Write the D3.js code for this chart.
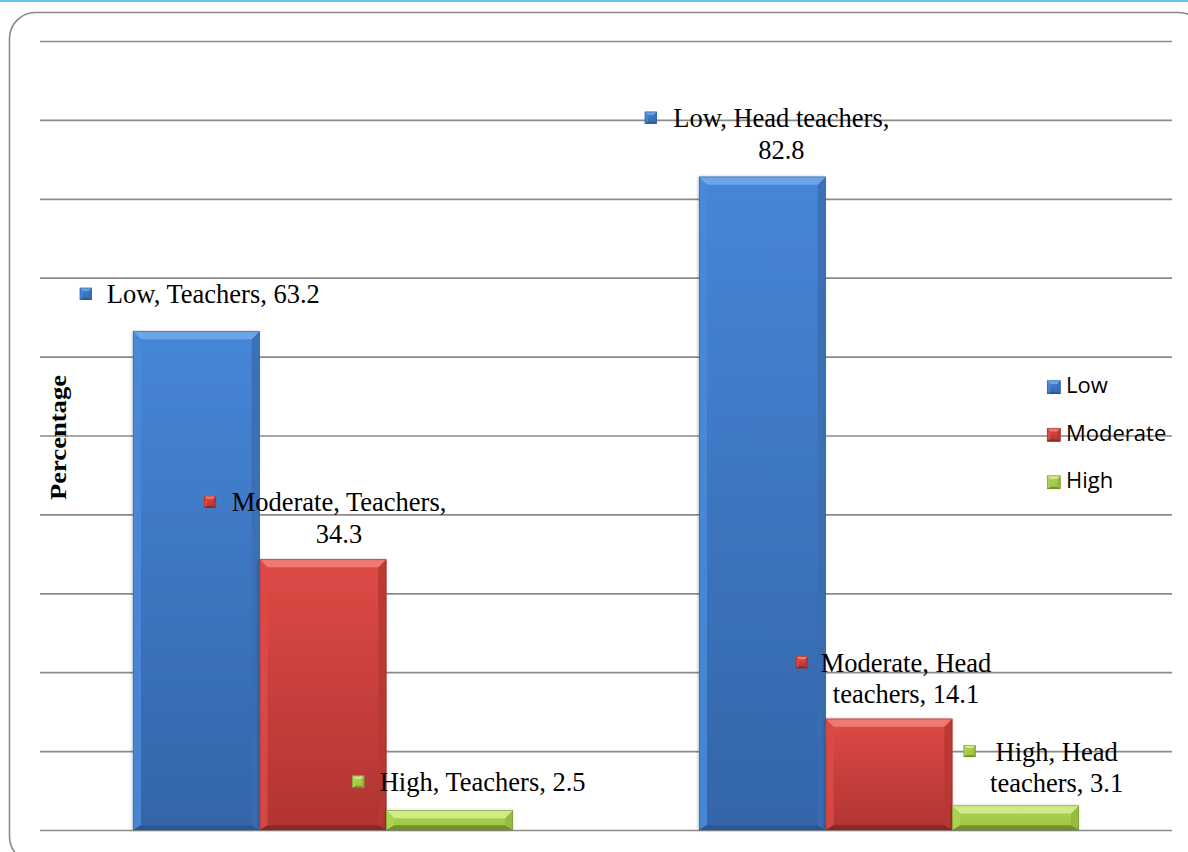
<!DOCTYPE html>
<html>
<head>
<meta charset="utf-8">
<script src="https://cdn.jsdelivr.net/npm/d3@7"></script>
<style>
  html, body { margin: 0; padding: 0; background: #ffffff; }
  svg { display: block; }
</style>
</head>
<body>
<svg id="chart" width="1188" height="852"></svg>
<script>
// ---- data ----
const categories = ["Teachers", "Head teachers"];
const seriesNames = ["Low", "Moderate", "High"];
const lowValues = [63.2, 82.8];
const moderateValues = [34.3, 14.1];
const highValues = [2.5, 3.1];
const yTicks = [0, 10, 20, 30, 40, 50, 60, 70, 80, 90, 100];
const axisTitle = "Percentage";

// ---- layout ----
const W = 1188, H = 852;
const plot = { left: 40, right: 1172, top: 41, bottom: 830 };

const palettes = {
  Low:      { face: ["#4686d7", "#3465a8"], top: "#6fa7ea", left: "#4a8ad9", right: "#3a6db2", bottom: "#2b5590", edge: "#2d5a94" },
  Moderate: { face: ["#de4a46", "#b03431"], top: "#ef7b76", left: "#dc4a46", right: "#b63733", bottom: "#8a2522", edge: "#8c2b28" },
  High:     { face: ["#b0d65a", "#9cc142"], top: "#d0ec8a", left: "#acd354", right: "#94b83e", bottom: "#6f8c26", edge: "#6c8a28" }
};

// Data label placement: offsets from the bar's centre / top, and
// how many words go on the first line (0 = single line).
const labelLayout = {
  "Low|Teachers":           { dx: 17,  dy: -28,   mx: -116.5, brk: 0 },
  "Moderate|Teachers":      { dx: 16,  dy: -48,   mx: -119,   brk: 2 },
  "High|Teachers":          { dx: 33,  dy: -19,   mx: -97.5,  brk: 0 },
  "Low|Head teachers":      { dx: 19,  dy: -49.5, mx: -117.5, brk: 3 },
  "Moderate|Head teachers": { dx: 17,  dy: -47,   mx: -93,    brk: 2 },
  "High|Head teachers":     { dx: 41,  dy: -45,   mx: -52,    brk: 2 }
};

const svg = d3.select("#chart");
const defs = svg.append("defs");

// vertical gradients for bar faces
seriesNames.forEach(s => {
  const gr = defs.append("linearGradient")
    .attr("id", "face-" + s).attr("x1", 0).attr("y1", 0).attr("x2", 0).attr("y2", 1);
  gr.append("stop").attr("offset", "0%").attr("stop-color", palettes[s].face[0]);
  gr.append("stop").attr("offset", "100%").attr("stop-color", palettes[s].face[1]);
});
const shadow = defs.append("filter").attr("id", "barShadow")
  .attr("x", "-10%").attr("y", "-10%").attr("width", "120%").attr("height", "120%");
shadow.append("feDropShadow").attr("dx", -1).attr("dy", 0).attr("stdDeviation", 1.6)
  .attr("flood-color", "#000").attr("flood-opacity", 0.22);

// page accents
svg.append("rect").attr("x", 0).attr("y", 0).attr("width", W).attr("height", 2)
  .attr("fill", "#5ec4f4");
svg.append("rect").attr("x", 9.5).attr("y", 12.5).attr("width", 1195).attr("height", 850)
  .attr("rx", 26).attr("ry", 26)
  .attr("fill", "#ffffff").attr("stroke", "#8a8a8a").attr("stroke-width", 1.6);

// scales
const x0 = d3.scaleBand().domain(categories).range([plot.left, plot.right])
  .paddingInner(0.3286).paddingOuter(0.1643);
const x1 = d3.scaleBand().domain(seriesNames).range([0, x0.bandwidth()]).padding(0);
const y = d3.scaleLinear().domain([0, 100]).range([plot.bottom, plot.top]);

// gridlines via the axis generator (no tick labels)
const grid = svg.append("g").attr("transform", `translate(${plot.left},0)`)
  .call(d3.axisRight(y).tickValues(yTicks).tickSize(plot.right - plot.left).tickFormat(""));
grid.select(".domain").remove();
grid.selectAll(".tick line").attr("stroke", "#8a8a8a").attr("stroke-width", 1.7);

// axis title
svg.append("text")
  .attr("transform", `translate(66,${(plot.top + plot.bottom) / 2 + 2}) rotate(-90)`)
  .attr("text-anchor", "middle")
  .attr("font-family", "'Liberation Serif', 'Times New Roman', serif")
  .attr("font-weight", "bold").attr("font-size", 23)
  .attr("textLength", 125).attr("lengthAdjust", "spacingAndGlyphs")
  .attr("fill", "#000").text(axisTitle);

// bevelled block
function bevelBlock(g, x, yTop, w, h, s, b) {
  const p = palettes[s];
  const x2 = x + w, y2 = yTop + h;
  const bt = Math.min(b, h / 2, w / 2);
  const bs = Math.min(b, w / 2);
  const bb = Math.min(b * 0.6, h / 3);
  g.append("rect").attr("x", x).attr("y", yTop).attr("width", w).attr("height", h)
    .attr("fill", `url(#face-${s})`);
  const poly = (pts, fill, op) => g.append("polygon")
    .attr("points", pts.map(d => d.join(",")).join(" ")).attr("fill", fill).attr("opacity", op);
  poly([[x, yTop], [x + bs, yTop + bt], [x + bs, y2 - bb], [x, y2]], p.left, 0.85);
  poly([[x2, yTop], [x2, y2], [x2 - bs, y2 - bb], [x2 - bs, yTop + bt]], p.right, 0.85);
  poly([[x, y2], [x + bs, y2 - bb], [x2 - bs, y2 - bb], [x2, y2]], p.bottom, 0.9);
  poly([[x, yTop], [x2, yTop], [x2 - bs, yTop + bt], [x + bs, yTop + bt]], p.top, 0.95);
  g.append("rect").attr("x", x + 0.3).attr("y", yTop + 0.3).attr("width", w - 0.6).attr("height", h - 0.6)
    .attr("fill", "none").attr("stroke", p.edge).attr("stroke-width", 0.8).attr("opacity", 0.6);
}

// build rows
const valuesBySeries = { Low: lowValues, Moderate: moderateValues, High: highValues };
const rows = [];
categories.forEach((c, ci) => {
  seriesNames.forEach(s => rows.push({ category: c, series: s, value: valuesBySeries[s][ci] }));
});

// bars
const barsG = svg.append("g");
rows.forEach(d => {
  const g = barsG.append("g").attr("filter", "url(#barShadow)");
  const bx = x0(d.category) + x1(d.series);
  bevelBlock(g, bx, y(d.value), x1.bandwidth(), y(0) - y(d.value), d.series, 8);
});

// data labels
const fmt = d3.format(".1f");
const labelsG = svg.append("g")
  .attr("font-family", "'Liberation Serif', 'Times New Roman', serif")
  .attr("font-size", 26.5).attr("fill", "#000");
rows.forEach(d => {
  const L = labelLayout[d.series + "|" + d.category];
  const cx = x0(d.category) + x1(d.series) + x1.bandwidth() / 2;
  const top = y(d.value);
  const words = `${d.series}, ${d.category}, ${fmt(d.value)}`.split(" ");
  const lines = L.brk ? [words.slice(0, L.brk).join(" "), words.slice(L.brk).join(" ")] : [words.join(" ")];
  const baseline = top + L.dy;
  lines.forEach((t, i) => {
    labelsG.append("text").attr("x", cx + L.dx).attr("y", baseline + i * 31.5)
      .attr("text-anchor", "middle").text(t);
  });
  bevelBlock(labelsG.append("g"), cx + L.mx, baseline - 9.5 - 6, 12, 12, d.series, 3);
});

// legend
const legendG = svg.append("g")
  .attr("font-family", "'Open Sans', 'DejaVu Sans', sans-serif").attr("font-size", 22).attr("fill", "#000");
seriesNames.forEach((s, i) => {
  const base = 393 + i * 47.5;
  bevelBlock(legendG.append("g"), 1047, base - 12.5, 13.5, 13.5, s, 3.5);
  legendG.append("text").attr("x", 1066).attr("y", base).text(s);
});
</script>
</body>
</html>
